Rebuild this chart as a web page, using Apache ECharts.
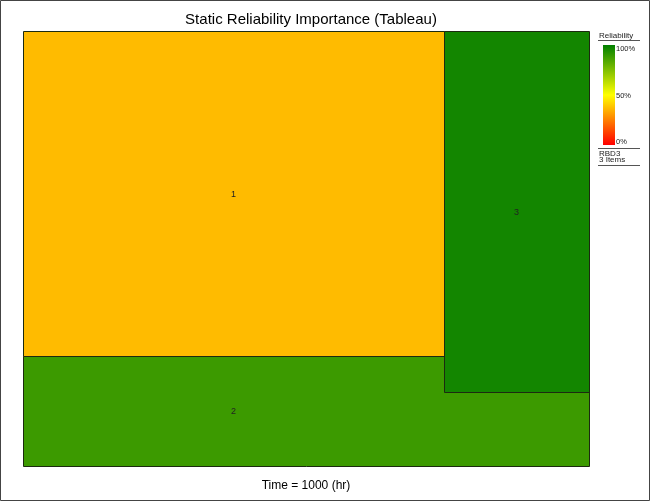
<!DOCTYPE html>
<html><head><meta charset="utf-8">
<script src="https://cdn.jsdelivr.net/npm/echarts@6/dist/echarts.min.js"></script>
<style>html,body{margin:0;padding:0;background:#fff}#c{width:650px;height:501px}</style>
</head><body><div id="c"></div>
<script>
// Treemap cells (units: layout grid 566 x 435, y measured from top)
var names = ['2', '1', '3'];
var cellX0 = [0, 0, 421];
var cellX1 = [566, 421, 566];
var cellY0 = [325, 0, 0];
var cellY1 = [435, 325, 361];
var labelX = [210.5, 210.5, 493.5];
var reliability = [88, 37, 96];
var colors = ['#3C9A00', '#FFBB00', '#138600'];
var legendTicks = ['100%', '50%', '0%'];

var data = names.map(function (n, i) {
  return { name: n, value: [cellX0[i], cellX1[i], cellY0[i], cellY1[i], labelX[i], reliability[i]], itemStyle: { color: colors[i] } };
});

var chart = echarts.init(document.getElementById('c'), null, { renderer: 'canvas' });
var font = '"Liberation Sans", Arial, sans-serif';
chart.setOption({
  animation: false,
  backgroundColor: '#fff',
  title: {
    text: 'Static Reliability Importance (Tableau)',
    left: 306, top: 7, textAlign: 'center',
    textStyle: { fontFamily: font, fontSize: 15, fontWeight: 'normal', color: '#000' }
  },
  grid: { left: 23, top: 31, width: 566, height: 435 },
  xAxis: { type: 'value', min: 0, max: 566, show: false },
  yAxis: { type: 'value', min: 0, max: 435, inverse: true, show: false },
  series: [{
    type: 'custom',
    data: data,
    renderItem: function (params, api) {
      var p0 = api.coord([api.value(0), api.value(2)]);
      var p1 = api.coord([api.value(1), api.value(3)]);
      var lc = api.coord([api.value(4), (api.value(2) + api.value(3)) / 2]);
      return {
        type: 'group',
        children: [{
          type: 'rect',
          shape: { x: Math.round(p0[0]) + 0.5, y: Math.round(p0[1]) + 0.5, width: Math.round(p1[0] - p0[0]), height: Math.round(p1[1] - p0[1]) },
          style: { fill: api.visual('color'), stroke: '#1c2a10', lineWidth: 1 }
        }, {
          type: 'text',
          style: { text: data[params.dataIndex].name, x: lc[0], y: lc[1] + 1, align: 'center', verticalAlign: 'middle', font: '9px ' + font, fill: '#222' }
        }]
      };
    }
  }],
  graphic: [
    { type: 'rect', shape: { x: 0.5, y: 0.5, width: 649, height: 500 }, style: { fill: 'none', stroke: '#444', lineWidth: 1 }, silent: true },
    { type: 'text', style: { text: 'Time = 1000 (hr)', x: 306, y: 486, align: 'center', verticalAlign: 'middle', font: '12px ' + font, fill: '#000' } },
    { type: 'text', style: { text: 'Reliability', x: 599, y: 35.5, verticalAlign: 'middle', font: '8px ' + font, fill: '#222' } },
    { type: 'line', shape: { x1: 598, y1: 40.5, x2: 640, y2: 40.5 }, style: { stroke: '#555', lineWidth: 1 } },
    { type: 'rect', shape: { x: 603, y: 45, width: 12, height: 100 },
      style: { fill: new echarts.graphic.LinearGradient(0, 0, 0, 1, [
        { offset: 0, color: '#007F00' }, { offset: 0.5, color: '#FFFF00' }, { offset: 1, color: '#FF0000' }]) } },
    { type: 'text', style: { text: legendTicks[0], x: 616, y: 48.5, verticalAlign: 'middle', font: '7.5px ' + font, fill: '#222' } },
    { type: 'text', style: { text: legendTicks[1], x: 616, y: 96, verticalAlign: 'middle', font: '7.5px ' + font, fill: '#222' } },
    { type: 'text', style: { text: legendTicks[2], x: 616, y: 142, verticalAlign: 'middle', font: '7.5px ' + font, fill: '#222' } },
    { type: 'line', shape: { x1: 598, y1: 148.5, x2: 640, y2: 148.5 }, style: { stroke: '#555', lineWidth: 1 } },
    { type: 'text', style: { text: 'RBD3', x: 599, y: 154, verticalAlign: 'middle', font: '8px ' + font, fill: '#222' } },
    { type: 'text', style: { text: '3 Items', x: 599, y: 160, verticalAlign: 'middle', font: '8px ' + font, fill: '#222' } },
    { type: 'line', shape: { x1: 598, y1: 165.5, x2: 640, y2: 165.5 }, style: { stroke: '#555', lineWidth: 1 } }
  ]
});
</script></body></html>
